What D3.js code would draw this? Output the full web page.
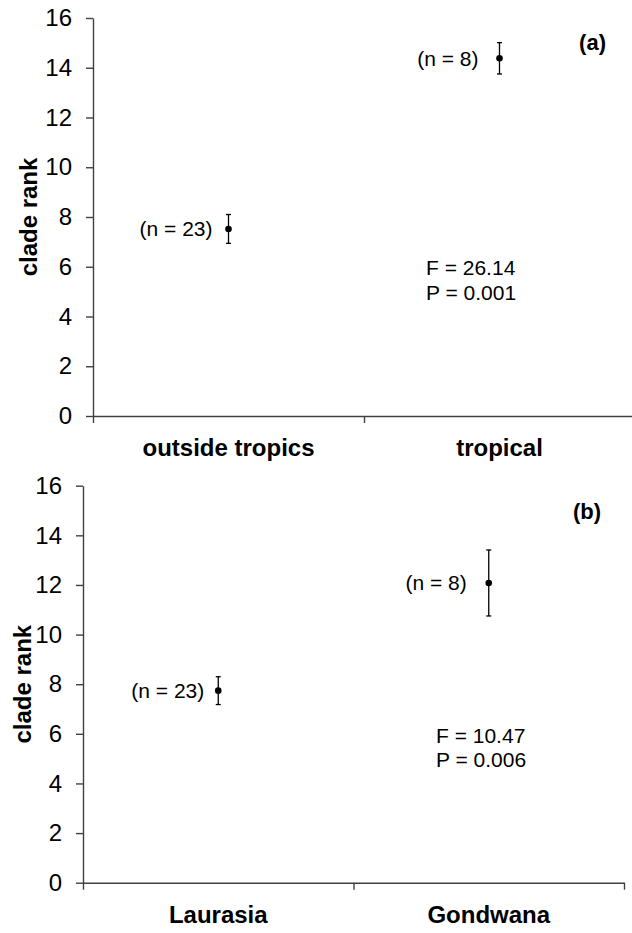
<!DOCTYPE html>
<html>
<head>
<meta charset="utf-8">
<script src="https://cdn.jsdelivr.net/npm/d3@7"></script>
<style>
  html, body { margin: 0; padding: 0; background: #fff; }
  svg { display: block; font-family: "Liberation Sans", Arial, sans-serif; }
</style>
</head>
<body>
<script>
// ---- data ----
const yTicks = [0, 2, 4, 6, 8, 10, 12, 14, 16];

const catsA = ["outside tropics", "tropical"];
const meansA = [7.52, 14.38];
const errA = [0.58, 0.63];
const nLabelsA = ["(n = 23)", "(n = 8)"];
const statsA = ["F = 26.14", "P = 0.001"];
const tagA = "(a)";

const catsB = ["Laurasia", "Gondwana"];
const meansB = [7.74, 12.08];
const errB = [0.56, 1.33];
const nLabelsB = ["(n = 23)", "(n = 8)"];
const statsB = ["F = 10.47", "P = 0.006"];
const tagB = "(b)";

const yTitle = "clade rank";

// ---- layout ----
const W = 632, H = 933;
const svg = d3.select("body").append("svg").attr("width", W).attr("height", H);

const panels = [
  { cats: catsA, means: meansA, err: errA, n: nLabelsA, stats: statsA, tag: tagA,
    x0: 93, x1: 635, yTop: 18, yBot: 416, statsX: 426, statsV: 5.95, tagX: 606, tagDy: 24, titleOff: 65, nGap: [16, 21] },
  { cats: catsB, means: meansB, err: errB, n: nLabelsB, stats: statsB, tag: tagB,
    x0: 83, x1: 624, yTop: 485.7, yBot: 882.7, statsX: 436, statsV: 5.95, tagX: 601, tagDy: 26, titleOff: 61, nGap: [14, 22] }
];

const axisColor = "#404040";

panels.forEach(p => {
  const g = svg.append("g");
  const y = d3.scaleLinear().domain([0, 16]).range([p.yBot, p.yTop]);
  const x = d3.scaleBand().domain(p.cats).range([p.x0, p.x1]).padding(0);
  const xb = d3.scaleLinear().domain([0, p.cats.length]).range([p.x0, p.x1]);

  // y axis
  const ya = g.append("g").attr("transform", `translate(${p.x0},0)`)
    .call(d3.axisLeft(y).tickValues(yTicks).tickFormat(d3.format("d"))
      .tickSize(7).tickSizeOuter(0).tickPadding(14));
  ya.select(".domain").attr("stroke", axisColor).attr("stroke-width", 1.4);
  ya.selectAll(".tick line").attr("stroke", axisColor).attr("stroke-width", 1.4);
  ya.selectAll(".tick text").attr("font-size", 24).attr("fill", "#000")
    .attr("font-family", "Liberation Sans, Arial, sans-serif");

  // x axis (ticks at category boundaries)
  const xa = g.append("g").attr("transform", `translate(0,${p.yBot})`)
    .call(d3.axisBottom(xb).tickValues(d3.range(p.cats.length + 1)).tickFormat("")
      .tickSize(7).tickSizeOuter(0));
  xa.select(".domain").attr("stroke", axisColor).attr("stroke-width", 1.4);
  xa.selectAll(".tick line").attr("stroke", axisColor).attr("stroke-width", 1.4);

  // category labels
  g.selectAll(".cat").data(p.cats).enter().append("text")
    .attr("x", d => x(d) + x.bandwidth() / 2)
    .attr("y", p.yBot + 40)
    .attr("text-anchor", "middle")
    .attr("font-size", 24).attr("font-weight", "bold")
    .text(d => d);

  // y title
  g.append("text")
    .attr("transform", `translate(${p.x0 - p.titleOff},${(p.yTop + p.yBot) / 2}) rotate(-90)`)
    .attr("text-anchor", "middle").attr("dominant-baseline", "central")
    .attr("font-size", 24).attr("font-weight", "bold")
    .text(yTitle);

  // error bars
  const cx = i => x(p.cats[i]) + x.bandwidth() / 2;
  p.means.forEach((m, i) => {
    const lo = y(m - p.err[i]), hi = y(m + p.err[i]);
    g.append("line").attr("x1", cx(i)).attr("x2", cx(i)).attr("y1", lo).attr("y2", hi)
      .attr("stroke", "#000").attr("stroke-width", 1.3);
    [lo, hi].forEach(yy => g.append("line")
      .attr("x1", cx(i) - 2.5).attr("x2", cx(i) + 2.5).attr("y1", yy).attr("y2", yy)
      .attr("stroke", "#000").attr("stroke-width", 1.3));
    g.append("circle").attr("cx", cx(i)).attr("cy", y(m)).attr("r", 3.3).attr("fill", "#000");
    g.append("text").attr("x", cx(i) - p.nGap[i]).attr("y", y(m))
      .attr("text-anchor", "end").attr("dominant-baseline", "central")
      .attr("font-size", 21).text(p.n[i]);
  });

  // stats
  p.stats.forEach((s, k) => {
    g.append("text").attr("x", p.statsX).attr("y", y(p.statsV) + k * 24.5)
      .attr("dominant-baseline", "central").attr("font-size", 21).text(s);
  });

  // panel tag
  g.append("text").attr("x", p.tagX).attr("y", p.yTop + p.tagDy)
    .attr("text-anchor", "end").attr("dominant-baseline", "central")
    .attr("font-size", 22).attr("font-weight", "bold").text(p.tag);
});
</script>
</body>
</html>
